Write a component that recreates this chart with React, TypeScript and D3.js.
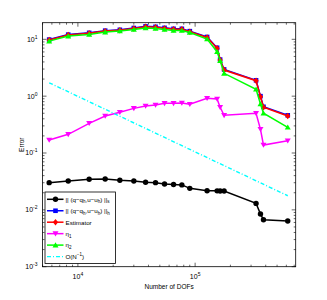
import React, { useEffect, useRef } from 'react';
import * as d3 from 'd3';

// DOFs of each adaptive step
const dofs = [5690, 8270, 12480, 17090, 22800, 30000, 37800, 45950, 54840, 65460,
  77060, 90100, 126500, 154000, 163400, 176700, 331000, 361000, 383000, 616600];

const errS = [0.0301, 0.0322, 0.0345, 0.035, 0.0331, 0.0322, 0.0305, 0.0301, 0.0285, 0.028,
  0.0275, 0.0239, 0.0217, 0.0216, 0.0214, 0.0215, 0.013, 0.00845, 0.00671, 0.00637];
const errH = [9.9, 12.1, 13.0, 14.2, 14.7, 15.8, 16.9, 16.6, 15.9, 15.3,
  15.3, 13.9, 11.0, 7.1, 4.4, 2.95, 1.9, 1.0, 0.65, 0.46];
const estimator = [9.7, 11.9, 12.8, 13.95, 14.4, 15.5, 16.6, 16.3, 15.6, 15.0,
  15.0, 13.6, 10.8, 6.95, 4.32, 2.88, 1.87, 0.98, 0.637, 0.448];
const eta1 = [0.169, 0.213, 0.333, 0.448, 0.52, 0.61, 0.672, 0.70, 0.748, 0.748,
  0.76, 0.72, 0.917, 0.89, 0.637, 0.46, 0.50, 0.261, 0.138, 0.164];
const eta2 = [9.3, 11.4, 12.2, 13.4, 14.0, 14.9, 15.8, 15.5, 14.9, 14.3,
  14.3, 13.2, 10.1, 6.05, 4.2, 2.52, 1.32, 0.728, 0.50, 0.283];

const refX = [5690, 616600];
const refY = [1.72, 0.0177];

const xTicks = [1e4, 1e5];
const yTicks = [1e-3, 1e-2, 1e-1, 1e0, 1e1];

type Marker = 'circle' | 'square' | 'diamond' | 'tridown' | 'triup' | 'none';

const App: React.FC = () => {
  const svgRef = useRef<SVGSVGElement>(null);

  useEffect(() => {
    const svg = d3.select(svgRef.current);
    svg.selectAll('*').remove();

    const width = 327, height = 300;
    const margin = { top: 22.7, right: 31.3, bottom: 33.3, left: 42.5 };
    const w = width - margin.left - margin.right;
    const h = height - margin.top - margin.bottom;

    svg.attr('width', width).attr('height', height);
    svg.append('rect').attr('width', width).attr('height', height).attr('fill', '#fff');

    const g = svg.append('g').attr('transform', `translate(${margin.left},${margin.top})`);

    const x = d3.scaleLog().domain([4990, 721000]).range([0, w]);
    const y = d3.scaleLog().domain([1e-3, 19.6]).range([h, 0]);

    const font = 'Liberation Sans, Arial, sans-serif';

    // minor + major ticks, inward, on all four sides
    const xMinor: number[] = [];
    for (let e = 3; e <= 5; e++) for (let m = 1; m < 10; m++) {
      const v = m * Math.pow(10, e);
      if (v >= x.domain()[0] && v <= x.domain()[1]) xMinor.push(v);
    }
    const yMinor: number[] = [];
    for (let e = -3; e <= 1; e++) for (let m = 1; m < 10; m++) {
      const v = m * Math.pow(10, e);
      if (v >= y.domain()[0] && v <= y.domain()[1]) yMinor.push(v);
    }
    const tk = g.append('g').attr('stroke', '#000').attr('stroke-width', 0.6);
    xMinor.forEach(v => {
      const len = xTicks.includes(v) ? 4 : 2;
      tk.append('line').attr('x1', x(v)).attr('x2', x(v)).attr('y1', h).attr('y2', h - len);
      tk.append('line').attr('x1', x(v)).attr('x2', x(v)).attr('y1', 0).attr('y2', len);
    });
    yMinor.forEach(v => {
      const len = yTicks.includes(v) ? 4 : 2;
      tk.append('line').attr('y1', y(v)).attr('y2', y(v)).attr('x1', 0).attr('x2', len);
      tk.append('line').attr('y1', y(v)).attr('y2', y(v)).attr('x1', w).attr('x2', w - len);
    });

    // tick labels
    xTicks.forEach(v => {
      const t = g.append('text').attr('x', x(v)).attr('y', h + 12)
        .attr('text-anchor', 'middle').attr('font-family', font).attr('font-size', 7);
      t.append('tspan').text('10');
      t.append('tspan').attr('dy', -3).attr('font-size', 5).text(String(Math.round(Math.log10(v))));
    });
    yTicks.forEach(v => {
      const t = g.append('text').attr('x', -5).attr('y', y(v) + 2.5)
        .attr('text-anchor', 'end').attr('font-family', font).attr('font-size', 7);
      t.append('tspan').text('10');
      t.append('tspan').attr('dy', -3).attr('font-size', 5).text(String(Math.round(Math.log10(v))));
    });

    g.append('text').attr('x', w / 2).attr('y', h + 22).attr('text-anchor', 'middle')
      .attr('font-family', font).attr('font-size', 6.5).text('Number of DOFs');
    g.append('text').attr('transform', `translate(${-19},${h / 2}) rotate(-90)`)
      .attr('text-anchor', 'middle').attr('font-family', font).attr('font-size', 6.5).text('Error');

    const drawMarker = (sel: d3.Selection<SVGGElement, unknown, null, undefined>, m: Marker, cx: number, cy: number, color: string) => {
      if (m === 'circle') sel.append('circle').attr('cx', cx).attr('cy', cy).attr('r', 2.7).attr('fill', color);
      if (m === 'square') sel.append('rect').attr('x', cx - 2.3).attr('y', cy - 2.3).attr('width', 4.6).attr('height', 4.6).attr('fill', color);
      if (m === 'diamond') sel.append('path').attr('d', `M${cx},${cy - 3.2}L${cx + 2.6},${cy}L${cx},${cy + 3.2}L${cx - 2.6},${cy}Z`).attr('fill', color);
      if (m === 'tridown') sel.append('path').attr('d', `M${cx - 3},${cy - 2.3}L${cx + 3},${cy - 2.3}L${cx},${cy + 2.8}Z`).attr('fill', color);
      if (m === 'triup') sel.append('path').attr('d', `M${cx - 3},${cy + 2.3}L${cx + 3},${cy + 2.3}L${cx},${cy - 2.8}Z`).attr('fill', color);
    };

    const series: { vals: number[]; color: string; marker: Marker }[] = [
      { vals: errS, color: '#000000', marker: 'circle' },
      { vals: errH, color: '#0000ff', marker: 'square' },
      { vals: estimator, color: '#ff0000', marker: 'diamond' },
      { vals: eta1, color: '#ff00ff', marker: 'tridown' },
      { vals: eta2, color: '#00ff00', marker: 'triup' },
    ];

    const line = d3.line<[number, number]>().x(d => x(d[0])).y(d => y(d[1]));
    const plot = g.append('g');
    series.forEach(s => {
      const pts = dofs.map((d, i) => [d, s.vals[i]] as [number, number]);
      plot.append('path').attr('d', line(pts) as string).attr('fill', 'none')
        .attr('stroke', s.color).attr('stroke-width', 1.5);
      const mg = plot.append('g');
      pts.forEach(p => drawMarker(mg, s.marker, x(p[0]), y(p[1]), s.color));
    });

    const refPts = refX.map((d, i) => [d, refY[i]] as [number, number]);
    plot.append('path').attr('d', line(refPts) as string).attr('fill', 'none')
      .attr('stroke', '#00ffff').attr('stroke-width', 1.4).attr('stroke-dasharray', '4,2,1,2');

    // axis box
    g.append('rect').attr('width', w).attr('height', h).attr('fill', 'none')
      .attr('stroke', '#000').attr('stroke-width', 0.8);

    // legend
    const labels: { color: string; marker: Marker; label: React.ReactNode; parts: [string, string][] }[] = [
      { color: '#000000', marker: 'circle', label: null, parts: [['|| (q\u2212q', ''], ['h', 'sub'], [',u\u2212u', ''], ['h', 'sub'], [') ||', ''], ['s', 'sub']] },
      { color: '#0000ff', marker: 'square', label: null, parts: [['|| (q\u2212q', ''], ['h', 'sub'], [',u\u2212u', ''], ['h', 'sub'], [') ||', ''], ['h', 'sub']] },
      { color: '#ff0000', marker: 'diamond', label: null, parts: [['Estimator', '']] },
      { color: '#ff00ff', marker: 'tridown', label: null, parts: [['\u03b7', ''], ['1', 'sub']] },
      { color: '#00ff00', marker: 'triup', label: null, parts: [['\u03b7', ''], ['2', 'sub']] },
      { color: '#00ffff', marker: 'none', label: null, parts: [['O(N', ''], ['\u22121', 'sup'], [')', '']] },
    ];
    const lx = 45 - margin.left, ly = 192 - margin.top;
    const lg = g.append('g').attr('transform', `translate(${lx},${ly})`);
    lg.append('rect').attr('width', 70.5).attr('height', 71.5).attr('fill', '#fff')
      .attr('stroke', '#000').attr('stroke-width', 0.8);
    labels.forEach((d, i) => {
      const yy = 7.3 + i * 11.45;
      const row = lg.append('g') as unknown as d3.Selection<SVGGElement, unknown, null, undefined>;
      const ln = row.append('line').attr('x1', 2).attr('x2', 18.5).attr('y1', yy).attr('y2', yy)
        .attr('stroke', d.color).attr('stroke-width', 1.5);
      if (d.marker === 'none') ln.attr('stroke-dasharray', '4,2,1,2').attr('stroke-width', 1.2);
      drawMarker(row, d.marker, 10.5, yy, d.color);
      const t = row.append('text').attr('x', 20.5).attr('y', yy + 2.3)
        .attr('font-family', font).attr('font-size', 6.2);
      let shift = 0;
      d.parts.forEach(([txt, kind]) => {
        const dy = kind === 'sub' ? 1.8 : kind === 'sup' ? -2.5 : 0;
        t.append('tspan').attr('dy', dy - shift).attr('font-size', kind ? 4.5 : 6.2).text(txt);
        shift = dy;
      });
    });
  }, []);

  return <svg ref={svgRef} style={{ position: 'absolute', left: 0, top: 0 }} />;
};

export default App;
